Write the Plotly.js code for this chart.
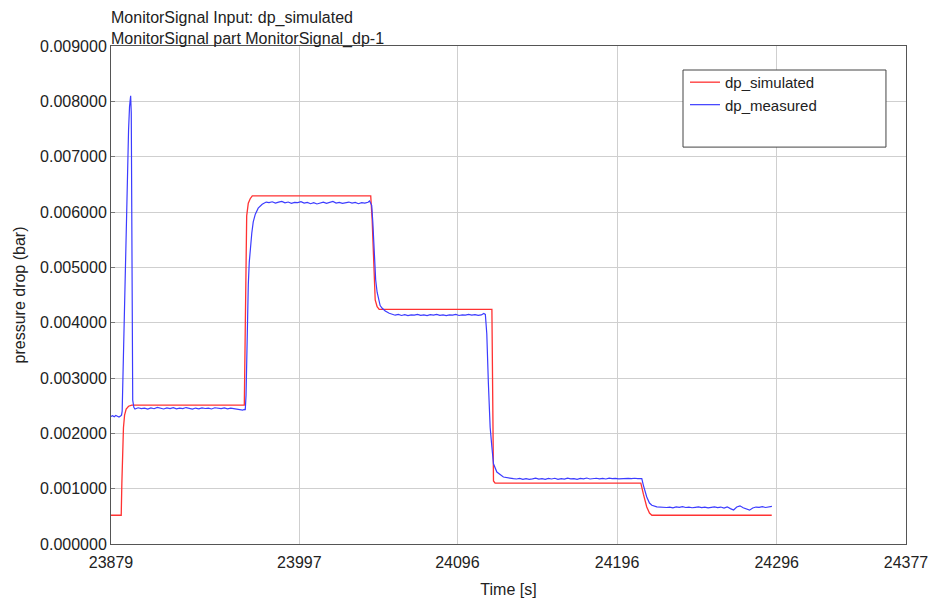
<!DOCTYPE html>
<html>
<head>
<meta charset="utf-8">
<script src="https://cdn.plot.ly/plotly-3.0.1.min.js"></script>
<style>html,body{margin:0;padding:0;background:#fff;}#chart{width:933px;height:604px;}</style>
</head>
<body>
<div id="chart"></div>
<script>
// ---- tick labels ----
var xTickVals = [23879, 23997, 24096, 24196, 24296, 24377];
var xTickText = ["23879", "23997", "24096", "24196", "24296", "24377"];

// ---- dp_simulated ----
var simTime = [23879, 23885.4, 23885.8, 23886.3, 23886.8, 23887.5, 23888.5, 23890, 23892,
  23962.5, 23963.1, 23964.0, 23965.0, 23966.2, 23967.5,
  24041.7, 24042.6, 24043.6, 24044.5, 24045.7, 24047.0,
  24117.6, 24118.1, 24118.6, 24119.6,
  24210.9, 24212.5, 24214.6, 24216.3, 24217.8, 24292.9];
var simValue = [0.00052, 0.00052, 0.0011, 0.0017, 0.0021, 0.00233, 0.00244, 0.00249, 0.00251,
  0.00251, 0.0039, 0.00593, 0.00616, 0.00624, 0.00629,
  0.00629, 0.00585, 0.00494, 0.00441, 0.00429, 0.00424,
  0.00424, 0.0026, 0.00114, 0.00110,
  0.00110, 0.00090, 0.00067, 0.00056, 0.00052, 0.00052];

// ---- dp_measured ----
var measTime = [
  23879, 23880, 23881, 23882, 23883, 23884, 23885, 23885.6,
  23886.0, 23886.5, 23887.3, 23888.0, 23889.0, 23890.0, 23890.6, 23891.3, 23891.7, 23892.1, 23892.3, 23892.6, 23893.3,
  23894, 23896, 23898, 23900, 23902, 23904, 23906, 23908, 23910, 23912, 23914, 23916, 23918, 23920,
  23922, 23924, 23926, 23928, 23930, 23932, 23934, 23936, 23938, 23940, 23942, 23944, 23946, 23948,
  23950, 23952, 23954, 23956, 23958, 23960, 23961.5, 23962.5,
  23963.1, 23963.6, 23964.0, 23964.5, 23965.0, 23965.6, 23966.2, 23967.2, 23968.1, 23969.4, 23971.2, 23973.7, 23976.2,
  23978, 23980, 23982, 23984, 23986, 23988, 23990, 23992, 23994, 23996, 23998, 24000, 24002, 24004,
  24006, 24008, 24010, 24012, 24014, 24016, 24018, 24020, 24022, 24024, 24026, 24028, 24030, 24032,
  24034, 24036, 24038, 24040, 24041,
  24042.3, 24043.0, 24043.6, 24044.1, 24044.8, 24045.7, 24046.7, 24047.6, 24048.9, 24050.8, 24053.3,
  24055, 24057, 24059, 24061, 24063, 24065, 24067, 24069, 24071, 24073, 24075, 24077, 24079, 24081,
  24083, 24085, 24087, 24089, 24091, 24093, 24095, 24097, 24099, 24101, 24103, 24105, 24107, 24109,
  24111, 24112.5, 24113.5,
  24114.4, 24115.4, 24116.5, 24117.6, 24118.6, 24120.7, 24124.8, 24131.1,
  24133, 24135, 24137, 24139, 24141, 24143, 24145, 24147, 24149, 24151, 24153, 24155, 24157, 24159,
  24161, 24163, 24165, 24167, 24169, 24171, 24173, 24175, 24177, 24179, 24181, 24183, 24185, 24187,
  24189, 24191, 24193, 24195, 24197, 24199, 24201, 24203, 24205, 24207, 24209,
  24211.5, 24212.5, 24213.6, 24214.6, 24216.3, 24217.8, 24220.9,
  24223, 24225, 24227, 24229, 24231, 24233, 24235, 24237, 24239, 24241, 24243, 24245, 24247, 24249,
  24251, 24253, 24255, 24257, 24259, 24261, 24263, 24265, 24267, 24269, 24271, 24273, 24275, 24277,
  24279, 24281, 24283, 24285, 24287, 24289, 24291, 24293];
var measValue = [
  0.002305, 0.002318, 0.002300, 0.002322, 0.002310, 0.002296, 0.002315, 0.002330,
  0.00240, 0.00308, 0.00404, 0.00500, 0.00658, 0.00748, 0.00790, 0.00810, 0.00779, 0.00500, 0.00389, 0.00260, 0.00247,
  0.002440, 0.002462, 0.002448, 0.002455, 0.002438, 0.002460, 0.002445, 0.002470, 0.002452, 0.002440, 0.002458, 0.002447, 0.002463, 0.002441,
  0.002455, 0.002448, 0.002466, 0.002450, 0.002437, 0.002457, 0.002444, 0.002460, 0.002449, 0.002455, 0.002440, 0.002462, 0.002451, 0.002446,
  0.002458, 0.002443, 0.002455, 0.002447, 0.002440, 0.002428, 0.002420, 0.002432,
  0.00242, 0.00269, 0.00332, 0.00404, 0.00468, 0.00509, 0.00535, 0.00562, 0.00582, 0.00596, 0.00607, 0.00614, 0.00618,
  0.006170, 0.006185, 0.006160, 0.006178, 0.006192, 0.006165, 0.006180, 0.006158, 0.006175, 0.006168, 0.006185, 0.006160, 0.006172, 0.006150,
  0.006168, 0.006145, 0.006162, 0.006178, 0.006155, 0.006170, 0.006190, 0.006160, 0.006175, 0.006158, 0.006165, 0.006180, 0.006162, 0.006172,
  0.006150, 0.006168, 0.006160, 0.006175, 0.006200,
  0.00612, 0.00582, 0.00540, 0.00507, 0.00477, 0.00455, 0.00442, 0.00431, 0.00426, 0.00421, 0.00417,
  0.004150, 0.004135, 0.004148, 0.004130, 0.004145, 0.004128, 0.004142, 0.004135, 0.004150, 0.004132, 0.004140, 0.004127, 0.004145, 0.004138,
  0.004150, 0.004133, 0.004142, 0.004128, 0.004140, 0.004135, 0.004148, 0.004130, 0.004142, 0.004136, 0.004150, 0.004138, 0.004145, 0.004132,
  0.004140, 0.004165, 0.004150,
  0.00380, 0.00290, 0.00211, 0.00175, 0.00145, 0.00130, 0.00121, 0.00118,
  0.001175, 0.001185, 0.001170, 0.001182, 0.001168, 0.001178, 0.001190, 0.001172, 0.001180, 0.001168, 0.001185, 0.001175, 0.001188, 0.001170,
  0.001180, 0.001172, 0.001190, 0.001176, 0.001182, 0.001170, 0.001185, 0.001178, 0.001192, 0.001175, 0.001183, 0.001188, 0.001178, 0.001185,
  0.001175, 0.001190, 0.001180, 0.001186, 0.001178, 0.001183, 0.001176, 0.001185, 0.001180, 0.001188, 0.001182,
  0.00118, 0.00106, 0.00095, 0.00085, 0.00074, 0.00070, 0.00067,
  0.000665, 0.000672, 0.000660, 0.000668, 0.000655, 0.000670, 0.000662, 0.000675, 0.000660, 0.000668, 0.000655, 0.000663, 0.000672, 0.000658,
  0.000666, 0.000652, 0.000664, 0.000670, 0.000657, 0.000668, 0.000650, 0.000672, 0.000640, 0.000615, 0.000668, 0.000690, 0.000655, 0.000640,
  0.000612, 0.000650, 0.000668, 0.000662, 0.000675, 0.000660, 0.000670, 0.000680];

var FONT = "Liberation Sans, Arial, sans-serif";

var traces = [
  {x: simTime, y: simValue, type: "scatter", mode: "lines", name: "dp_simulated",
   line: {color: "rgb(255,50,50)", width: 1.3}},
  {x: measTime, y: measValue, type: "scatter", mode: "lines", name: "dp_measured",
   line: {color: "rgb(60,60,255)", width: 1.2}}
];

var layout = {
  width: 933, height: 604,
  margin: {l: 111, r: 27, t: 46, b: 60},
  paper_bgcolor: "#fff", plot_bgcolor: "#fff",
  font: {family: FONT, size: 16, color: "#222"},
  showlegend: true,
  title: {
    text: "MonitorSignal Input: dp_simulated<br>MonitorSignal part MonitorSignal_dp-1",
    font: {family: FONT, size: 16, color: "#222"},
    xref: "paper", x: 0, xanchor: "left",
    yref: "container", y: 0.962, yanchor: "top"
  },
  xaxis: {
    range: [23879, 24377], tickmode: "array", tickvals: xTickVals, ticktext: xTickText,
    showgrid: true, gridcolor: "#cfcfcf", gridwidth: 1,
    showline: true, linecolor: "#555", linewidth: 1, mirror: true,
    zeroline: false, ticks: "", ticklabelstandoff: 4,
    tickfont: {family: FONT, size: 16, color: "#222"},
    title: {text: "Time [s]", font: {family: FONT, size: 16, color: "#222"}, standoff: 13}
  },
  yaxis: {
    range: [0, 0.009], dtick: 0.001, tick0: 0, tickformat: ".6f",
    showgrid: true, gridcolor: "#cfcfcf", gridwidth: 1,
    showline: true, linecolor: "#555", linewidth: 1, mirror: true,
    zeroline: false, ticks: "inside", ticklen: 4, tickcolor: "#777",
    tickfont: {family: FONT, size: 16, color: "#222"},
    title: {text: "pressure drop (bar)", font: {family: FONT, size: 16, color: "#222"}, standoff: 10}
  },
  legend: {
    x: 0.722, xanchor: "left", y: 0.960, yanchor: "top",
    bgcolor: "rgba(0,0,0,0)", borderwidth: 0,
    font: {family: FONT, size: 15, color: "#222"},
    itemwidth: 30, tracegroupgap: 0
  },
  shapes: [
    {type: "rect", xref: "paper", yref: "paper", layer: "above",
     x0: 0.7195, x1: 0.9748, y0: 0.797, y1: 0.9518,
     line: {color: "#444", width: 1}, fillcolor: "#fff"}
  ]
};

Plotly.newPlot("chart", traces, layout, {displayModeBar: false, staticPlot: true});
</script>
</body>
</html>
